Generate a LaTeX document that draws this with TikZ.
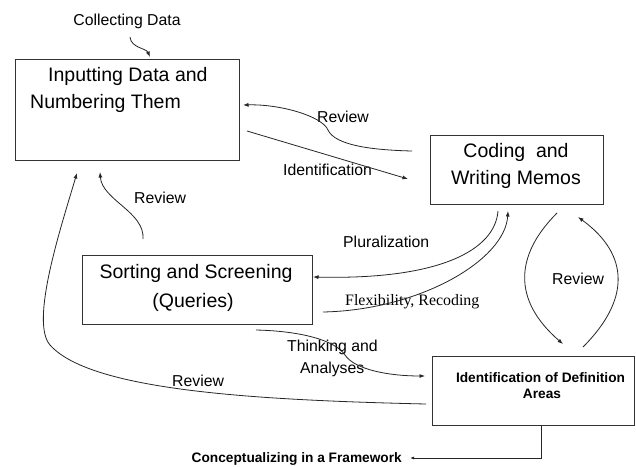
\documentclass[tikz,border=0pt]{standalone}
\usepackage{fontspec}
\setmainfont{Liberation Sans}
\newfontfamily\serifface{Liberation Serif}
\usetikzlibrary{arrows.meta}
\begin{document}
\begin{tikzpicture}[x=1pt,y=-1pt,
  boxnode/.style={draw=black!80,line width=1pt,inner sep=0pt},
  conn/.style={draw=black!85,line width=0.8pt},
  arr/.style={conn,-{Latex[length=5.5pt,width=4pt]}},
  bigtxt/.style={inner sep=0pt,font=\fontsize{19.5}{24}\selectfont},
  smalltxt/.style={inner sep=0pt,font=\fontsize{15.8}{19}\selectfont},
  boldtxt/.style={inner sep=0pt,font=\fontsize{13.7}{16}\selectfont\bfseries},
  sertxt/.style={inner sep=0pt,font=\fontsize{15.9}{19}\selectfont\serifface}]
\useasboundingbox (0,0) rectangle (636,466);
\fill[white] (0,0) rectangle (636,466);

% boxes
\node[boxnode,minimum width=224pt,minimum height=101pt] (b1) at (127,109.5) {};
\node[boxnode,minimum width=173pt,minimum height=69pt] (b2) at (516.5,169.5) {};
\node[boxnode,minimum width=230pt,minimum height=69pt] (b3) at (197,289.5) {};
\node[boxnode,minimum width=202pt,minimum height=69pt] (b4) at (533,390.5) {};

% box texts
\node[bigtxt,anchor=base west] (t1a) at (48,81) {Inputting Data and};
\node[bigtxt,anchor=base west] (t1b) at (30,108) {Numbering Them};
\node[bigtxt,anchor=base] (t2a) at (516,157) {Coding\ \ and};
\node[bigtxt,anchor=base] (t2b) at (516,184) {Writing Memos};
\node[bigtxt,anchor=base] (t3a) at (196,278) {Sorting and Screening};
\node[bigtxt,anchor=base] (t3b) at (193,307) {(Queries)};
\node[boldtxt,anchor=base] (t4a) at (540.5,382) {Identification of Definition};
\node[boldtxt,anchor=base] (t4b) at (542,398) {Areas};

% labels
\node[smalltxt,anchor=base] (lcd) at (127,25) {Collecting Data};
\node[smalltxt,anchor=base] (lrv1) at (343,122) {Review};
\node[smalltxt,anchor=base west] (lid) at (283,175) {Identification};
\node[smalltxt,anchor=base west] (lrv2) at (134,203) {Review};
\node[smalltxt,anchor=base west] (lpl) at (343,247) {Pluralization};
\node[sertxt,anchor=base west] (lfx) at (345,305) {Flexibility, Recoding};
\node[smalltxt,anchor=base west] (lrv3) at (552,284) {Review};
\node[smalltxt,anchor=base west] (lth1) at (287,351) {Thinking and};
\node[smalltxt,anchor=base west] (lth2) at (300,373) {Analyses};
\node[smalltxt,anchor=base west] (lrv4) at (172,386) {Review};
\node[boldtxt,anchor=base east] (lcf) at (402,462.5) {Conceptualizing in a Framework};

% connector end points
\coordinate (cdS) at (130,37);   \coordinate (cdE) at (150,57);
\coordinate (r1S) at (412,151);  \coordinate (r1M) at (328,130); \coordinate (r1E) at (243,105);
\coordinate (idS) at (247,131);  \coordinate (idE) at (408,179);
\coordinate (r2S) at (143,239);  \coordinate (r2E) at (100,172);
\coordinate (r4S) at (426,404);  \coordinate (r4M) at (50,345); \coordinate (r4E) at (77,173);
\coordinate (plS) at (498,211);  \coordinate (plE) at (313,277);
\coordinate (fxS) at (323,312);  \coordinate (fxE) at (508,211);
\coordinate (thS) at (256,330);  \coordinate (thM) at (345,355); \coordinate (thE) at (425,376);
\coordinate (lpS) at (557,213);  \coordinate (lpE) at (563,344);
\coordinate (rpS) at (583,347);  \coordinate (rpE) at (578,217);
\coordinate (btS) at (541,425);  \coordinate (btE) at (410,458);

% connectors
\draw[arr] (cdS) .. controls (131,48) and (146,48) .. (cdE);
\draw[arr] (r1S) .. controls (370,150) and (335,145) .. (r1M) .. controls (322,116) and (280,104) .. (r1E);
\draw[arr] (idS) -- (idE);
\draw[arr] (r2S) .. controls (145,212) and (102,200) .. (r2E);
\draw[arr] (r4S) .. controls (250,400) and (90,390) .. (r4M) .. controls (30,322) and (60,230) .. (r4E);
\draw[arr] (plS) .. controls (495,250) and (440,280) .. (plE);
\draw[arr] (fxS) .. controls (420,310) and (505,260) .. (fxE);
\draw[arr] (thS) .. controls (300,331) and (335,340) .. (thM) .. controls (355,370) and (390,376) .. (thE);
\draw[arr] (lpS) .. controls (515,255) and (512,300) .. (lpE);
\draw[arr] (rpS) .. controls (630,300) and (630,255) .. (rpE);
\draw[conn,-{Latex[length=4pt,width=3pt]}] (btS) |- (btE);
\end{tikzpicture}
\end{document}
